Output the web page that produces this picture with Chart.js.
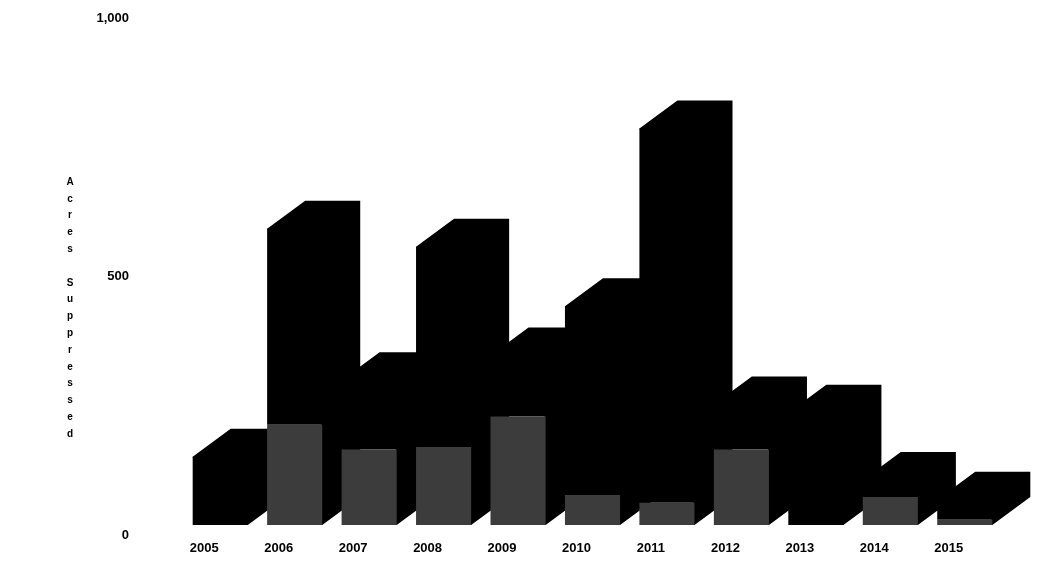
<!DOCTYPE html>
<html lang="en">
<head>
  <meta charset="UTF-8" />
  <title>Acres Suppressed</title>
  <script src="https://cdn.jsdelivr.net/npm/chart.js"></script>
  <style>
    body {
      margin: 0;
      background: #fff;
    }
    #wrap {
      width: 1039px;
      height: 562px;
    }
  </style>
</head>
<body>
  <div id="wrap">
    <canvas id="acresChart" width="1039" height="562"></canvas>
  </div>

  <script>
    // data
    const years = ['2005', '2006', '2007', '2008', '2009', '2010', '2011', '2012', '2013', '2014', '2015'];
    const lowerAcres = [0, 194, 146, 151, 210, 58, 43, 146, 0, 54, 10];
    const upperAcres = [132, 379, 134, 387, 118, 365, 724, 87, 217, 33, 39];
    const yTicks = [0, 500, 1000];
    const yTitle = 'Acres Suppressed';

    const DX = 38, DY = 28;   // depth of the 3D boxes

    // side and top faces of each stacked column, drawn left to right
    // (pulled 1px under the front face so no light seam shows)
    const depthPlugin = {
      id: 'depth3d',
      beforeDatasetsDraw(chart) {
        const ctx = chart.ctx;
        const low = chart.getDatasetMeta(0).data;
        const up = chart.getDatasetMeta(1).data;
        ctx.save();
        ctx.fillStyle = '#000';
        for (let i = 0; i < low.length; i++) {
          const b = low[i];
          const base = b.base;
          const top = Math.min(b.y, up[i].y);
          const left = b.x - b.width / 2;
          const right = b.x + b.width / 2;
          ctx.beginPath();
          ctx.moveTo(right - 1, base);
          ctx.lineTo(right, base);
          ctx.lineTo(right + DX, base - DY);
          ctx.lineTo(right + DX, top - DY);
          ctx.lineTo(left + DX, top - DY);
          ctx.lineTo(left, top);
          ctx.lineTo(left, top + 1);
          ctx.lineTo(right - 1, top + 1);
          ctx.closePath();
          ctx.fill();
        }
        ctx.restore();
      },
      afterDraw(chart) {
        const ctx = chart.ctx;
        ctx.save();
        ctx.fillStyle = '#000';
        ctx.font = 'bold 10px "Liberation Sans", Arial, sans-serif';
        ctx.textAlign = 'center';
        ctx.textBaseline = 'middle';
        let y = 182;
        for (const ch of yTitle) {
          if (ch !== ' ') ctx.fillText(ch, 70, y);
          y += 16.8;
        }
        ctx.restore();
      }
    };

    new Chart(document.getElementById('acresChart'), {
      type: 'bar',
      data: {
        labels: years,
        datasets: [
          { label: 'lower', data: lowerAcres, backgroundColor: '#3c3c3c', borderWidth: 0 },
          { label: 'upper', data: upperAcres, backgroundColor: '#000', borderWidth: 0 }
        ]
      },
      options: {
        responsive: false,
        animation: false,
        layout: { padding: { left: 80, right: 37, top: 8, bottom: 0 } },
        datasets: { bar: { categoryPercentage: 1, barPercentage: 0.74 } },
        plugins: { legend: { display: false }, tooltip: { enabled: false } },
        scales: {
          x: {
            stacked: true,
            grid: { display: false, drawTicks: true, tickLength: 16 },
            border: { display: false },
            afterFit(scale) { scale.height = 37; },
            ticks: {
              color: '#000',
              padding: 0,
              labelOffset: -16,
              font: { family: '"Liberation Sans", Arial, sans-serif', size: 13, weight: 'bold' }
            }
          },
          y: {
            stacked: true,
            min: 0,
            max: 1000,
            grid: { display: false, drawTicks: true, tickLength: 54 },
            border: { display: false },
            afterFit(scale) { scale.width = 103; },
            afterBuildTicks(scale) { scale.ticks = yTicks.map(v => ({ value: v })); },
            ticks: {
              color: '#000',
              padding: 0,
              labelOffset: 10,
              font: { family: '"Liberation Sans", Arial, sans-serif', size: 13, weight: 'bold' },
              callback: v => v.toLocaleString('en-US')
            }
          }
        }
      },
      plugins: [depthPlugin]
    });
  </script>
</body>
</html>
